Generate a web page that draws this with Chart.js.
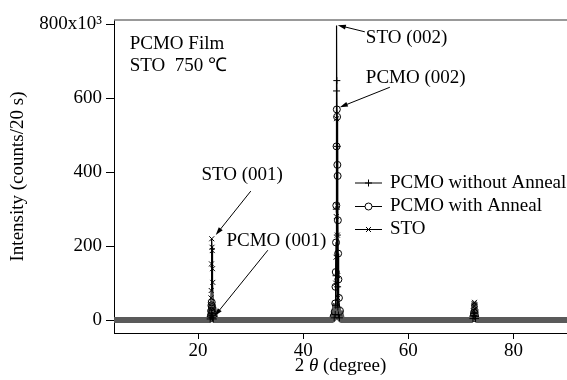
<!DOCTYPE html>
<html>
<head>
<meta charset="utf-8">
<script src="https://cdn.jsdelivr.net/npm/chart.js"></script>
<style>
  html, body { margin: 0; padding: 0; background: #fff; }
</style>
</head>
<body>
<canvas id="chart" width="567" height="380"></canvas>
<script>
// 2 theta (degree) / intensity (x10^3 counts per 20 s)
const noAnnealX = [4.0, 21.9, 22.3, 22.45, 22.55, 22.6, 22.65, 22.75, 22.9, 23.3,
    45.5, 45.9, 46.1, 46.2, 46.25, 46.3, 46.35, 46.4, 46.45, 46.5, 46.55, 46.6, 46.7, 46.9, 47.3,
    71.9, 72.3, 72.45, 72.55, 72.65, 72.8, 73.2, 90.2]
const noAnnealY = [0, 0, 3, 8, 14, 18, 12, 6, 3, 0,
    0, 6, 15, 40, 120, 300, 620, 648, 470, 230, 90, 35, 14, 6, 0,
    0, 4, 12, 18, 10, 4, 0, 0]

const annealX = [4.0, 21.9, 22.3, 22.45, 22.5, 22.55, 22.6, 22.65, 22.7, 22.8, 23.0, 23.4,
    45.4, 45.8, 46.0, 46.1, 46.15, 46.2, 46.25, 46.3, 46.35, 46.4, 46.45, 46.5, 46.55, 46.6, 46.65, 46.7, 46.8, 47.0, 47.4,
    71.9, 72.3, 72.45, 72.55, 72.65, 72.8, 73.2, 90.2]
const annealY = [0, 0, 4, 12, 25, 40, 48, 35, 20, 10, 4, 0,
    0, 10, 22, 45, 90, 130, 210, 310, 470, 570, 550, 420, 390, 270, 180, 110, 60, 25, 0,
    0, 5, 12, 20, 12, 5, 0, 0]

const stoX = [4.0, 21.9, 22.3, 22.4, 22.45, 22.5, 22.55, 22.6, 22.65, 22.7, 22.75, 22.8, 22.9, 23.3,
    45.5, 45.9, 46.1, 46.2, 46.25, 46.3, 46.35, 46.4, 46.45, 46.5, 46.55, 46.6, 46.7, 46.9, 47.3,
    71.9, 72.3, 72.4, 72.5, 72.55, 72.6, 72.7, 72.8, 73.2, 90.2]
const stoY = [0, 0, 8, 30, 60, 80, 152, 220, 197, 188, 139, 102, 35, 0,
    0, 12, 40, 100, 170, 280, 545, 797, 310, 230, 120, 60, 25, 8, 0,
    0, 6, 25, 45, 38, 48, 30, 10, 0, 0]

const seriesLabels = ["PCMO without Anneal", "PCMO with Anneal", "STO"]
const seriesMarkers = ["cross", "circle", "crossRot"]
const xTicks = [20, 40, 60, 80]
const yTicks = [0, 200, 400, 600, 800]

const notes = [
    {text: "PCMO Film", x: 6.99, y: 748},
    {text: "STO  750 \u2103", x: 6.99, y: 687},
    {text: "STO (002)", x: 51.92, y: 763},
    {text: "PCMO (002)", x: 51.92, y: 656},
    {text: "STO (001)", x: 20.64, y: 392},
    {text: "PCMO (001)", x: 25.40, y: 214}
]
const arrows = [
    {x0: 51.73, y0: 780, x1: 46.59, y1: 798},
    {x0: 56.49, y0: 630, x1: 46.97, y1: 576},
    {x0: 30.03, y0: 349, x1: 23.36, y1: 230},
    {x0: 33.27, y0: 189, x1: 23.17, y1: 11}
]

const FONT = "'Liberation Serif', 'Times New Roman', serif"
Chart.defaults.font.family = FONT
Chart.defaults.font.size = 19
Chart.defaults.color = "#000"

const toPoints = (xs, ys) => xs.map((x, i) => ({x: x, y: ys[i]}))
const nearBase = ctx => Math.abs(ctx.p0.parsed.y) < 50 && Math.abs(ctx.p1.parsed.y) < 50

const makeSet = (label, marker, xs, ys) => ({
    label: label,
    data: toPoints(xs, ys),
    showLine: true,
    borderColor: "#000",
    borderWidth: 1.2,
    borderJoinStyle: "bevel",
    borderCapStyle: "butt",
    pointStyle: marker,
    pointRadius: ctx => (ctx.raw && (ctx.raw.y === 0 || ctx.raw.y > 700)) ? 0 : 3.5,
    pointBorderColor: "#000",
    pointBorderWidth: 1,
    pointBackgroundColor: "rgba(0,0,0,0)",
    segment: {
        borderWidth: ctx => nearBase(ctx) ? 6 : 1.2,
        borderColor: ctx => nearBase(ctx) ? "#5a5a5a" : "#000"
    }
})

const overlay = {
    id: "overlay",
    afterDraw(chart) {
        const ctx = chart.ctx
        const xs = chart.scales.x, ys = chart.scales.y
        const area = chart.chartArea
        ctx.save()
        // top frame line
        ctx.strokeStyle = "#777"
        ctx.lineWidth = 1.5
        ctx.beginPath()
        ctx.moveTo(area.left, area.top)
        ctx.lineTo(area.right, area.top)
        ctx.stroke()

        ctx.fillStyle = "#000"
        ctx.font = "19px " + FONT
        ctx.textBaseline = "middle"
        ctx.textAlign = "left"
        notes.forEach(n => ctx.fillText(n.text, xs.getPixelForValue(n.x), ys.getPixelForValue(n.y)))

        // x axis title with italic theta
        const parts = [["2 ", "19px " + FONT], ["\u03b8", "italic 19px " + FONT], [" (degree)", "19px " + FONT]]
        let total = 0
        parts.forEach(p => { ctx.font = p[1]; total += ctx.measureText(p[0]).width })
        let tx = (area.left + area.right) / 2 - total / 2
        parts.forEach(p => { ctx.font = p[1]; ctx.fillText(p[0], tx, 366); tx += ctx.measureText(p[0]).width })
        ctx.font = "19px " + FONT

        ctx.strokeStyle = "#000"
        ctx.lineWidth = 1
        arrows.forEach(a => {
            let px0 = xs.getPixelForValue(a.x0), py0 = ys.getPixelForValue(a.y0)
            let px1 = xs.getPixelForValue(a.x1), py1 = ys.getPixelForValue(a.y1)
            let ang = Math.atan2(py1 - py0, px1 - px0)
            ctx.beginPath()
            ctx.moveTo(px0, py0)
            ctx.lineTo(px1 - 6 * Math.cos(ang), py1 - 6 * Math.sin(ang))
            ctx.stroke()
            ctx.beginPath()
            ctx.moveTo(px1, py1)
            ctx.lineTo(px1 - 8 * Math.cos(ang) + 2.5 * Math.sin(ang), py1 - 8 * Math.sin(ang) - 2.5 * Math.cos(ang))
            ctx.lineTo(px1 - 8 * Math.cos(ang) - 2.5 * Math.sin(ang), py1 - 8 * Math.sin(ang) + 2.5 * Math.cos(ang))
            ctx.closePath()
            ctx.fill()
        })

        // legend
        const rows = [183, 206.5, 229.5]
        chart.data.datasets.forEach((ds, i) => {
            let y = rows[i]
            ctx.strokeStyle = "#000"
            ctx.lineWidth = 1
            ctx.beginPath()
            ctx.moveTo(355, y)
            ctx.lineTo(382, y)
            ctx.stroke()
            ctx.fillStyle = "#fff"
            Chart.helpers.drawPoint(ctx, {pointStyle: ds.pointStyle, radius: 3.5, borderWidth: 1}, 368.5, y)
            ctx.fillStyle = "#000"
            ctx.fillText(ds.label, 390, y)
        })
        ctx.restore()
    }
}

new Chart(document.getElementById("chart"), {
    type: "scatter",
    data: {
        datasets: [
            makeSet(seriesLabels[0], seriesMarkers[0], noAnnealX, noAnnealY),
            makeSet(seriesLabels[1], seriesMarkers[1], annealX, annealY),
            makeSet(seriesLabels[2], seriesMarkers[2], stoX, stoY)
        ]
    },
    options: {
        responsive: false,
        animation: false,
        devicePixelRatio: 1,
        layout: {padding: {top: 20, right: 0, bottom: 0, left: 0}},
        plugins: {legend: {display: false}, tooltip: {enabled: false}},
        scales: {
            x: {
                type: "linear",
                min: 4,
                max: 90.2,
                afterBuildTicks: axis => { axis.ticks = xTicks.map(v => ({value: v})) },
                ticks: {padding: 1, maxRotation: 0},
                grid: {drawOnChartArea: false, tickLength: 6, tickColor: "#000", tickWidth: 1},
                border: {color: "#000", width: 1},
                afterFit: s => { s.height = 47 }
            },
            y: {
                type: "linear",
                min: -35,
                max: 812,
                afterBuildTicks: axis => { axis.ticks = yTicks.map(v => ({value: v})) },
                ticks: {padding: 4, callback: v => v === 800 ? "800x10\u00b3" : String(v)},
                grid: {drawOnChartArea: false, tickLength: 8, tickColor: "#000", tickWidth: 1},
                border: {color: "#000", width: 1},
                title: {display: true, text: "Intensity (counts/20 s)", font: {lineHeight: 1.2}, padding: {top: 7, bottom: 0}},
                afterFit: s => { s.width = 114 }
            }
        }
    },
    plugins: [overlay]
})
</script>
</body>
</html>
